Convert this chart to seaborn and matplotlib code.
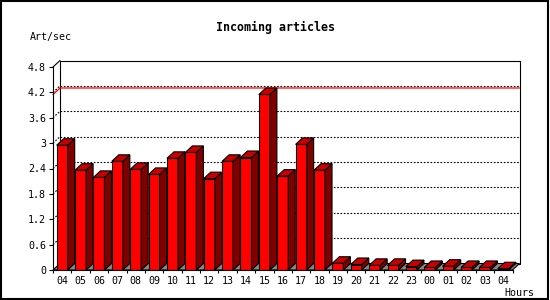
import numpy as np
import pandas as pd
import matplotlib
matplotlib.use("Agg")
import matplotlib.pyplot as plt
from matplotlib.patches import Polygon, Rectangle
import seaborn as sns

# ---- data ----
hours = ["04", "05", "06", "07", "08", "09", "10", "11", "12", "13", "14", "15",
         "16", "17", "18", "19", "20", "21", "22", "23", "00", "01", "02", "03", "04"]
rates = [2.95, 2.36, 2.19, 2.57, 2.38, 2.26, 2.64, 2.78, 2.16, 2.57, 2.66, 4.15,
         2.22, 2.97, 2.36, 0.16, 0.13, 0.11, 0.11, 0.08, 0.06, 0.09, 0.06, 0.06, 0.03]
y_ticks = [0, 0.6, 1.2, 1.8, 2.4, 3.0, 3.6, 4.2, 4.8]
y_tick_labels = ["0", "0.6", "1.2", "1.8", "2.4", "3", "3.6", "4.2", "4.8"]
title = "Incoming articles"
y_title = "Art/sec"
x_title = "Hours"

sns.set_theme(style="white")
plt.rcParams["font.family"] = ["DejaVu Sans Mono", "DejaVu Sans"]

W, H = 550, 300
fig = plt.figure(figsize=(W / 100, H / 100), dpi=100)
fig.patch.set_facecolor("white")

# axes: front frame
ax_l, ax_r, ax_b, ax_t = 53, 512.5, 270, 67
ax = fig.add_axes([ax_l / W, (H - ax_b) / H, (ax_r - ax_l) / W, (ax_b - ax_t) / H])
ax.set_facecolor("none")

df = pd.DataFrame({"slot": np.arange(len(rates)), "rate": rates})
sns.barplot(data=df, x="slot", y="rate", color="#ff0000", width=0.6,
            saturation=1, edgecolor="black", linewidth=0.8, ax=ax, zorder=5)

n = len(rates)
ax.set_xlim(-0.5, n - 0.5)
ax.set_ylim(0, 4.8)

# depth offset in data units
px_x = (ax_r - ax_l) / n
px_y = (ax_b - ax_t) / 4.8
dx = 7.0 / px_x
dy = 6.5 / px_y

x0, x1 = -0.5, n - 0.5
lw = 0.8

# back wall
ax.add_patch(Polygon([(x0 + dx, dy), (x1 + dx, dy), (x1 + dx, 4.8 + dy), (x0 + dx, 4.8 + dy)],
                     closed=True, facecolor="white", edgecolor="black", lw=lw,
                     clip_on=False, zorder=0))
# floor
ax.add_patch(Polygon([(x0, 0), (x1, 0), (x1 + dx, dy), (x0 + dx, dy)],
                     closed=True, facecolor="#888888", edgecolor="black", lw=lw,
                     clip_on=False, zorder=1))
# grid lines on back wall + side
for v in y_ticks[1:-1]:
    ax.plot([x0 + dx, x1 + dx], [v + dy, v + dy], color="black", lw=0.8,
            linestyle=(0, (1.5, 1.5)), clip_on=False, zorder=2)
    ax.plot([x0, x0 + dx], [v, v + dy], color="black", lw=0.8,
            linestyle=(0, (1.5, 1.5)), clip_on=False, zorder=2)
# top-left connector
ax.plot([x0, x0 + dx], [4.8, 4.8 + dy], color="black", lw=lw, clip_on=False, zorder=2)

# max line
mx = max(rates)
ax.plot([x0, x0 + dx, x1 + dx], [mx, mx + dy, mx + dy], color="#ff0000", lw=0.9,
        clip_on=False, zorder=3)

# 3D faces of bars
for p in list(ax.patches):
    if not isinstance(p, Rectangle):
        continue
    bx, bw, bh = p.get_x(), p.get_width(), p.get_height()
    if bw > 0.9:
        continue
    top = Polygon([(bx, bh), (bx + bw, bh), (bx + bw + dx, bh + dy), (bx + dx, bh + dy)],
                  closed=True, facecolor="#c80000", edgecolor="black", lw=lw,
                  clip_on=False, zorder=6)
    side = Polygon([(bx + bw, 0), (bx + bw, bh), (bx + bw + dx, bh + dy), (bx + bw + dx, dy)],
                   closed=True, facecolor="#800000", edgecolor="black", lw=lw,
                   clip_on=False, zorder=6)
    ax.add_patch(side)
    ax.add_patch(top)

# spines
for s in ["top", "right"]:
    ax.spines[s].set_visible(False)
for s in ["left", "bottom"]:
    ax.spines[s].set_color("black")
    ax.spines[s].set_linewidth(lw)
    ax.spines[s].set_zorder(7)

ax.set_yticks(y_ticks)
ax.set_yticklabels(y_tick_labels)
ax.set_xticks(np.arange(n))
ax.set_xticklabels(hours)
ax.set_xticks(np.arange(n + 1) - 0.5, minor=True)
ax.tick_params(axis="y", which="major", left=True, length=3, width=0.8, pad=2,
               labelsize=7.2, colors="black", direction="out")
ax.tick_params(axis="x", which="major", bottom=False, length=0, pad=4.5,
               labelsize=7.2, labelcolor="black")
ax.tick_params(axis="x", which="minor", bottom=True, length=2.5, width=0.8,
               color="black", direction="out")
ax.set_xlabel("")
ax.set_ylabel("")
ax.grid(False)

fig.text(275 / W, 1 - 27 / H, title, ha="center", va="center",
         fontsize=8.4, fontweight="bold", color="black")
fig.text(30 / W, 1 - 37 / H, y_title, ha="left", va="center",
         fontsize=7.2, color="black")
fig.text(519 / W, 1 - 293 / H, x_title, ha="center", va="center",
         fontsize=7.2, color="black")

# figure frame
fig.patches.append(Rectangle((1 / W, 1 / H), 547 / W, 298 / H, transform=fig.transFigure,
                             fill=False, edgecolor="black", lw=1.5, zorder=10))

fig.savefig("out.png", dpi=100)
